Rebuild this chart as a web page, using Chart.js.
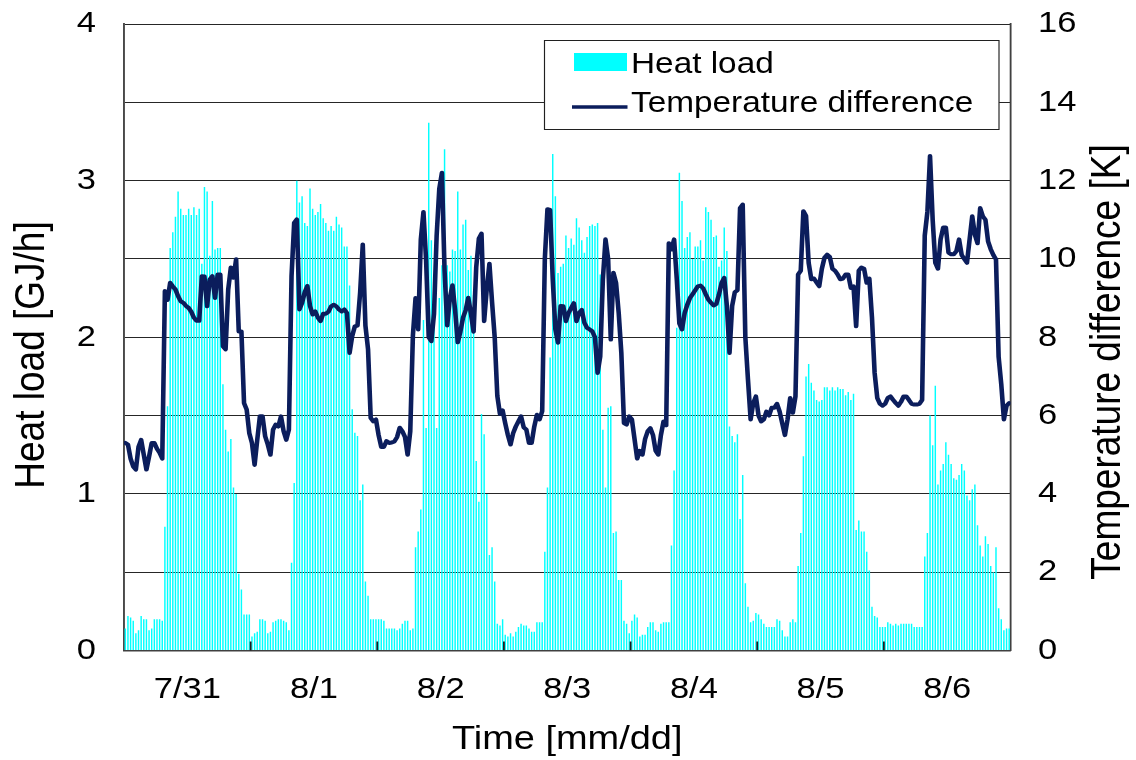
<!DOCTYPE html>
<html>
<head>
<meta charset="utf-8">
<script src="https://cdn.jsdelivr.net/npm/chart.js@4.4.1/dist/chart.umd.min.js"></script>
<style>
  html, body { margin: 0; padding: 0; background: #ffffff; }
  canvas { display: block; }
</style>
</head>
<body>
<canvas id="chart" width="988" height="760" style="width:1136px;height:760px"></canvas>
<script>
// Day labels on the time axis; each day holds 48 half-hour slots.
const dayLabels = ['7/31', '8/1', '8/2', '8/3', '8/4', '8/5', '8/6'];
const SLOTS_PER_DAY = 48;

// Heat load [GJ/h], half-hourly, one array per day.
const heatLoad0731 = [0.14,0.22,0.21,0.19,0.11,0.13,0.22,0.20,0.20,0.13,0.14,0.20,0.20,0.20,0.19,0.79,1.56,2.57,2.67,2.77,2.93,2.82,2.78,2.78,2.82,2.78,2.83,2.78,2.82,2.47,2.96,2.93,2.52,2.87,2.56,2.57,2.57,1.70,1.41,1.27,1.35,1.04,1.00,0.49,0.39,0.23,0.23,0.23];
const heatLoad0801 = [0.09,0.11,0.12,0.20,0.20,0.19,0.11,0.12,0.18,0.19,0.20,0.20,0.19,0.18,0.13,0.56,1.07,3.00,2.86,2.90,2.73,2.71,2.95,2.82,2.78,2.80,2.85,2.76,2.73,2.68,2.71,2.68,2.77,2.72,2.70,2.58,2.58,2.33,1.54,1.39,1.37,0.96,1.06,0.44,0.35,0.20,0.20,0.20];
const heatLoad0802 = [0.20,0.20,0.19,0.14,0.14,0.14,0.14,0.13,0.14,0.17,0.19,0.19,0.13,0.14,0.66,0.76,0.90,2.11,1.42,3.37,2.62,2.35,1.42,2.25,2.46,3.20,2.46,2.42,2.56,2.55,2.93,2.56,2.72,2.75,2.43,2.52,2.27,1.21,0.95,1.51,1.38,1.00,0.61,0.66,0.44,0.17,0.16,0.20];
const heatLoad0803 = [0.10,0.09,0.11,0.09,0.12,0.15,0.17,0.16,0.16,0.14,0.12,0.12,0.18,0.18,0.18,0.63,1.04,1.87,3.17,2.90,2.41,2.45,2.47,2.65,2.57,2.63,2.59,2.76,2.70,2.62,2.54,2.64,2.71,2.72,2.71,2.73,2.40,1.41,1.04,1.55,1.56,0.75,0.76,0.45,0.45,0.19,0.17,0.11];
const heatLoad0804 = [0.19,0.23,0.21,0.09,0.10,0.10,0.15,0.18,0.18,0.13,0.12,0.17,0.18,0.18,0.18,0.67,1.15,2.06,3.05,2.87,2.57,2.64,2.67,2.50,2.58,2.58,2.62,2.49,2.83,2.80,2.75,2.64,2.65,2.45,2.49,2.70,2.55,1.43,1.37,1.33,1.38,0.84,1.12,0.43,0.28,0.18,0.19,0.24];
const heatLoad0805 = [0.23,0.20,0.17,0.15,0.15,0.15,0.15,0.20,0.19,0.13,0.09,0.09,0.18,0.20,0.18,0.54,0.75,1.24,1.75,1.83,1.71,1.66,1.60,1.59,1.60,1.68,1.68,1.66,1.68,1.66,1.68,1.67,1.67,1.63,1.65,1.60,1.64,0.77,0.83,0.76,0.76,0.63,0.51,0.28,0.22,0.21,0.15,0.15];
const heatLoad0806 = [0.15,0.18,0.17,0.16,0.17,0.16,0.17,0.17,0.17,0.17,0.17,0.15,0.15,0.15,0.15,0.60,0.75,1.50,1.31,1.69,1.06,1.15,1.19,1.33,1.25,1.19,1.10,1.09,1.12,1.19,1.15,0.99,0.96,1.03,1.06,0.80,0.67,0.60,0.73,0.68,0.54,0.50,0.66,0.27,0.20,0.13,0.14,0.14];

// Supply/return temperature difference [K], half-hourly, one array per day.
const tempDiff0731 = [5.30,5.26,4.90,4.70,4.62,5.20,5.38,5.00,4.62,4.95,5.30,5.30,5.15,5.05,4.90,9.18,8.95,9.39,9.30,9.22,9.05,8.92,8.88,8.80,8.75,8.65,8.50,8.42,8.42,9.56,9.55,8.79,9.47,9.56,9.00,9.60,9.60,7.77,7.69,9.22,9.78,9.52,9.99,8.15,8.15,6.32,6.15,5.55];
const tempDiff0801 = [5.30,4.74,5.38,5.98,5.98,5.47,5.26,5.00,5.64,5.77,5.72,5.98,5.60,5.38,5.64,9.56,10.92,11.01,8.71,8.88,9.15,9.31,8.80,8.58,8.66,8.50,8.41,8.60,8.60,8.65,8.79,8.83,8.79,8.71,8.66,8.71,8.62,7.60,8.03,8.28,8.30,9.14,10.37,8.30,7.69,5.94,5.85,5.90];
const tempDiff0802 = [5.50,5.20,5.20,5.35,5.30,5.31,5.34,5.45,5.69,5.60,5.45,5.00,5.60,8.05,9.00,8.20,10.50,11.20,9.97,8.00,7.90,8.60,10.60,11.79,12.20,9.70,8.30,9.00,9.33,8.69,7.87,8.14,8.50,8.69,9.01,8.60,8.14,9.79,10.52,10.65,8.41,9.24,9.88,8.90,8.00,6.50,6.04,6.13];
const tempDiff0803 = [5.80,5.50,5.26,5.55,5.72,5.85,5.98,5.70,5.64,5.30,5.30,5.72,6.02,5.90,6.11,10.00,11.27,11.25,9.48,8.20,7.86,8.80,8.79,8.41,8.62,8.75,8.87,8.41,8.62,8.70,8.37,8.24,8.20,8.15,8.00,7.09,7.51,9.48,10.50,10.00,7.94,9.65,9.39,8.62,7.60,5.81,5.77,5.98];
const tempDiff0804 = [5.90,5.40,4.90,5.10,5.00,5.40,5.60,5.68,5.50,5.10,5.00,5.50,5.85,5.75,10.40,10.24,10.50,9.50,8.35,8.20,8.62,8.83,9.00,9.10,9.20,9.30,9.32,9.25,9.10,8.96,8.88,8.81,8.85,9.09,9.39,9.52,8.80,7.60,8.80,9.15,9.20,11.30,11.39,8.00,6.92,5.90,6.32,6.49];
const tempDiff0805 = [6.00,5.85,5.90,6.10,6.00,6.20,6.20,6.30,6.10,5.80,5.50,5.90,6.45,6.07,6.49,9.60,9.70,11.22,11.10,9.90,9.48,9.50,9.40,9.30,9.75,10.03,10.11,10.05,9.75,9.70,9.60,9.48,9.50,9.60,9.60,9.26,9.30,8.28,9.70,9.78,9.75,9.39,9.50,8.50,7.09,6.45,6.30,6.25];
const tempDiff0806 = [6.30,6.45,6.49,6.40,6.32,6.25,6.35,6.49,6.49,6.40,6.30,6.28,6.28,6.30,6.40,10.60,11.20,12.63,11.00,9.90,9.75,10.50,10.80,10.80,10.16,10.12,10.12,10.20,10.50,10.10,10.00,9.90,10.50,11.09,10.62,10.40,11.30,11.09,11.00,10.45,10.25,10.10,9.99,7.50,6.80,5.90,6.25,6.32];

// Axis ranges and steps.
const heatAxis = { min: 0, max: 4, step: 0.5 };
const tempAxis = { min: 0, max: 16, step: 2 };

// ---------------------------------------------------------------------------
const heatLoad = [].concat(heatLoad0731, heatLoad0801, heatLoad0802, heatLoad0803, heatLoad0804, heatLoad0805, heatLoad0806);
const tempDiff = [].concat(tempDiff0731, tempDiff0801, tempDiff0802, tempDiff0803, tempDiff0804, tempDiff0805, tempDiff0806);
const totalSlots = dayLabels.length * SLOTS_PER_DAY;

// The drawing is laid out on a narrower surface and widened horizontally.
const OUT_W = 1136, OUT_H = 760;
const STRETCH = 1.15;
const LOG_W = Math.round(OUT_W / STRETCH);
const sx = v => v / STRETCH;   // page x -> layout x

const FONT = '"Liberation Sans", Arial, Helvetica, sans-serif';
const TICK_SIZE = 30;
const CYAN = '#00ffff';
const NAVY = '#0b1d5c';
const AXIS = '#404040';
const GRID = '#262626';

Chart.defaults.font.family = FONT;
Chart.defaults.color = '#000';

const plotLeft = sx(124), plotRight = sx(1010.5), plotTop = 24, plotBottom = 650.5;

// fixed axis widths; the end labels may overhang the plot edges freely
function fixWidth(w) {
  return s => { s.width = w; s.paddingTop = 0; s.paddingBottom = 0; };
}

const framePlugin = {
  id: 'frame',
  beforeDraw(chart) {
    const ctx = chart.ctx;
    ctx.save();
    ctx.setTransform(STRETCH, 0, 0, 1, 0, 0);
  },
  afterDatasetsDraw(chart) {
    // short inward tick marks at the day boundaries
    const { ctx, chartArea } = chart;
    const xs = chart.scales.x;
    ctx.save();
    ctx.strokeStyle = '#202020';
    ctx.lineWidth = 1.6;
    for (let d = 1; d < dayLabels.length; d++) {
      const px = xs.getPixelForValue(d * SLOTS_PER_DAY);
      ctx.beginPath();
      ctx.moveTo(px, chartArea.bottom);
      ctx.lineTo(px, chartArea.bottom - 9);
      ctx.stroke();
    }
    ctx.restore();
  },
  afterDraw(chart) {
    const ctx = chart.ctx;
    const [lineSet, barSet] = chart.data.datasets;

    // legend box inside the plot
    ctx.save();
    ctx.fillStyle = '#ffffff';
    ctx.fillRect(sx(544.5), 40.5, sx(999) - sx(544.5), 89);
    ctx.strokeStyle = '#202020';
    ctx.lineWidth = 1;
    ctx.strokeRect(sx(544.5), 40.5, sx(999) - sx(544.5), 89);

    ctx.fillStyle = barSet.backgroundColor;
    ctx.fillRect(sx(574), 53, sx(627) - sx(574), 18);
    ctx.strokeStyle = lineSet.borderColor;
    ctx.lineWidth = 3.5;
    ctx.beginPath();
    ctx.moveTo(sx(572), 107);
    ctx.lineTo(sx(627.5), 107);
    ctx.stroke();

    ctx.fillStyle = '#000';
    ctx.font = '29px ' + FONT;
    ctx.textAlign = 'left';
    ctx.textBaseline = 'alphabetic';
    ctx.fillText(barSet.label, sx(631), 72.5);
    ctx.fillText(lineSet.label, sx(631), 112);

    // vertical axis titles, both reading bottom-to-top
    ctx.font = '37px ' + FONT;
    ctx.textAlign = 'center';
    ctx.textBaseline = 'middle';
    ctx.save();
    ctx.translate(sx(32), 355);
    ctx.rotate(-Math.PI / 2);
    ctx.fillText('Heat load [GJ/h]', 0, 0);
    ctx.restore();
    ctx.save();
    ctx.translate(sx(1108), 362);
    ctx.rotate(-Math.PI / 2);
    ctx.fillText('Temperature difference [K]', 0, 0);
    ctx.restore();
    ctx.restore();

    ctx.restore(); // undo the widening transform
  }
};

const canvas = document.getElementById('chart');
const chart = new Chart(canvas, {
  type: 'bar',
  data: {
    datasets: [
      {
        type: 'line',
        label: 'Temperature difference',
        data: tempDiff.map((v, i) => ({ x: i + 0.5, y: v })),
        yAxisID: 'yTemp',
        borderColor: NAVY,
        borderWidth: 4,
        pointRadius: 0,
        tension: 0,
        borderJoinStyle: 'round',
        borderCapStyle: 'round',
        order: 0
      },
      {
        type: 'bar',
        label: 'Heat load',
        data: heatLoad.map((v, i) => ({ x: i + 0.5, y: v })),
        yAxisID: 'yHeat',
        backgroundColor: CYAN,
        barPercentage: 0.55,
        categoryPercentage: 1,
        order: 1
      }
    ]
  },
  options: {
    responsive: false,
    animation: false,
    events: [],
    layout: { padding: { top: plotTop, left: 0, right: 0, bottom: 0 } },
    plugins: { legend: { display: false }, tooltip: { enabled: false } },
    scales: {
      x: {
        type: 'linear',
        position: 'bottom',
        min: 0,
        max: totalSlots,
        offset: false,
        grid: { drawOnChartArea: false, drawTicks: false },
        border: { display: true, color: AXIS, width: 1.6 },
        ticks: {
          stepSize: SLOTS_PER_DAY / 2,
          autoSkip: false,
          maxRotation: 0,
          padding: 21,
          color: '#000',
          font: { size: TICK_SIZE, family: FONT },
          callback: v => (v % SLOTS_PER_DAY === SLOTS_PER_DAY / 2) ? dayLabels[(v - SLOTS_PER_DAY / 2) / SLOTS_PER_DAY] : ''
        },
        title: {
          display: true,
          text: 'Time [mm/dd]',
          color: '#000',
          font: { size: 33, family: FONT },
          padding: { top: 0, bottom: 0 }
        },
        afterFit: s => { s.height = OUT_H - plotBottom; }
      },
      yHeat: {
        type: 'linear',
        position: 'left',
        min: heatAxis.min,
        max: heatAxis.max,
        grid: { color: GRID, lineWidth: 1, drawTicks: false },
        border: { display: true, color: AXIS, width: 1.6 },
        ticks: {
          stepSize: heatAxis.step,
          padding: sx(124 - 96),
          color: '#000',
          font: { size: TICK_SIZE, family: FONT },
          callback: v => Number.isInteger(v) ? String(v) : ''
        },
        afterFit: fixWidth(plotLeft)
      },
      yTemp: {
        type: 'linear',
        position: 'right',
        min: tempAxis.min,
        max: tempAxis.max,
        grid: { drawOnChartArea: false, drawTicks: false },
        border: { display: true, color: AXIS, width: 1.6 },
        ticks: {
          stepSize: tempAxis.step,
          padding: sx(1038 - 1010.5),
          color: '#000',
          font: { size: TICK_SIZE, family: FONT }
        },
        afterFit: fixWidth(LOG_W - plotRight)
      }
    }
  },
  plugins: [framePlugin]
});

// widen the backing store to the page width and redraw through the widening transform
canvas.width = OUT_W;
chart.draw();
</script>
</body>
</html>
